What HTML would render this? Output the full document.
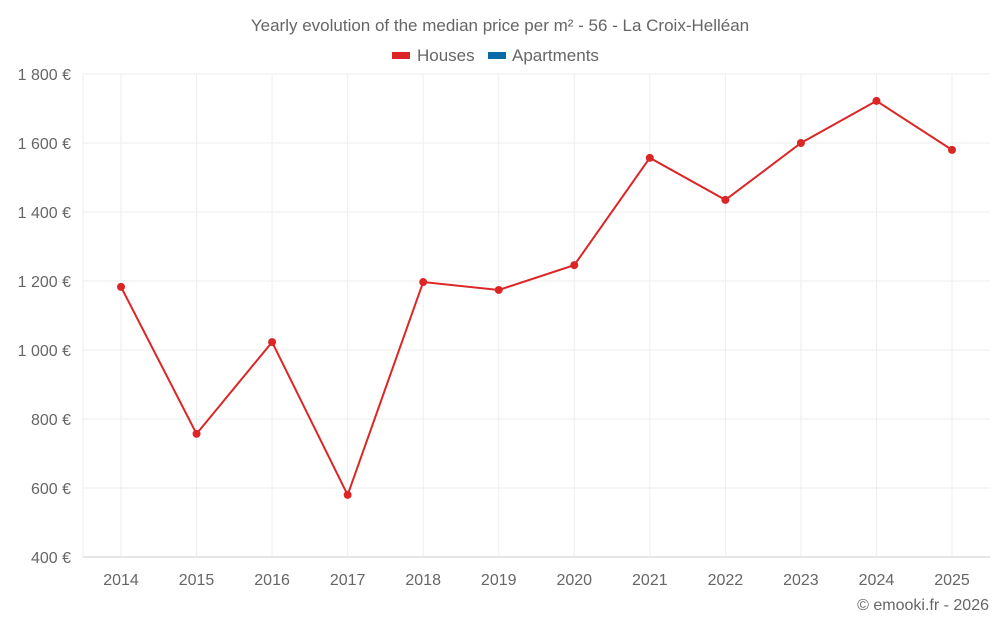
<!DOCTYPE html>
<html><head><meta charset="utf-8"><style>
body{margin:0;background:#fff;font-family:"Liberation Sans",sans-serif;}
svg text{font-family:"Liberation Sans",sans-serif;fill:#666;}
</style></head><body>
<svg id="c" width="1000" height="625">
<text x="500" y="31" text-anchor="middle" font-size="17">Yearly evolution of the median price per m² - 56 - La Croix-Helléan</text>
<g>
<g><rect x="392" y="52" width="18" height="7" fill="#dc2626"/><text x="417" y="61" font-size="17">Houses</text></g>
<g><rect x="488" y="52" width="18" height="7" fill="#0a69a6"/><text x="512" y="61" font-size="17">Apartments</text></g>
</g>
<g id="grid"></g><g id="axes"></g><g id="series"></g>
<text x="989" y="610" text-anchor="end" font-size="16">© emooki.fr - 2026</text>
</svg>
<script>
const years=["2014","2015","2016","2017","2018","2019","2020","2021","2022","2023","2024","2025"];
const houses=[1183,757,1023,580,1197,1174,1246,1557,1435,1600,1722,1580];
const yTicks=[400,600,800,1000,1200,1400,1600,1800];
const yTickLabels=["400 €","600 €","800 €","1 000 €","1 200 €","1 400 €","1 600 €","1 800 €"];
const NS="http://www.w3.org/2000/svg";
const L=83,R=990,T=74,B=557;
const y=v=>B-(v-400)/(1400)*(B-T);
const x=i=>121+i*(952-121)/(years.length-1);
function mk(t,a,p){const e=document.createElementNS(NS,t);for(const k in a)e.setAttribute(k,a[k]);p.appendChild(e);return e;}
const g=document.getElementById('grid'),ax=document.getElementById('axes'),s=document.getElementById('series');
yTicks.forEach((v,i)=>{
 const l=mk('line',{x1:L,x2:R,y1:y(v),y2:y(v),stroke:i==0?'#ccc':'#eee'},g);
 
 
 const t=mk('text',{x:71,y:y(v)+6,'text-anchor':'end','font-size':'16'},ax);
 t.textContent=yTickLabels[i];
 
 
});
mk('line',{x1:L,x2:L,y1:T,y2:B,stroke:'#eee'},g);
years.forEach((yr,i)=>{
 const l=mk('line',{x1:x(i),x2:x(i),y1:T,y2:B,stroke:'#eee'},g);
 
 
 const t=mk('text',{x:x(i),y:585,'text-anchor':'middle','font-size':'16'},ax);
 t.textContent=yr;
 
 
});
const p=mk('polyline',{points:houses.map((v,i)=>x(i)+','+y(v)).join(' '),fill:'none',stroke:'#dc2626','stroke-width':2},s);


houses.forEach((v,i)=>{
 const c=mk('circle',{cx:x(i),cy:y(v),r:4,fill:'#dc2626'},s);
 
 
});
</script>
</body></html>
